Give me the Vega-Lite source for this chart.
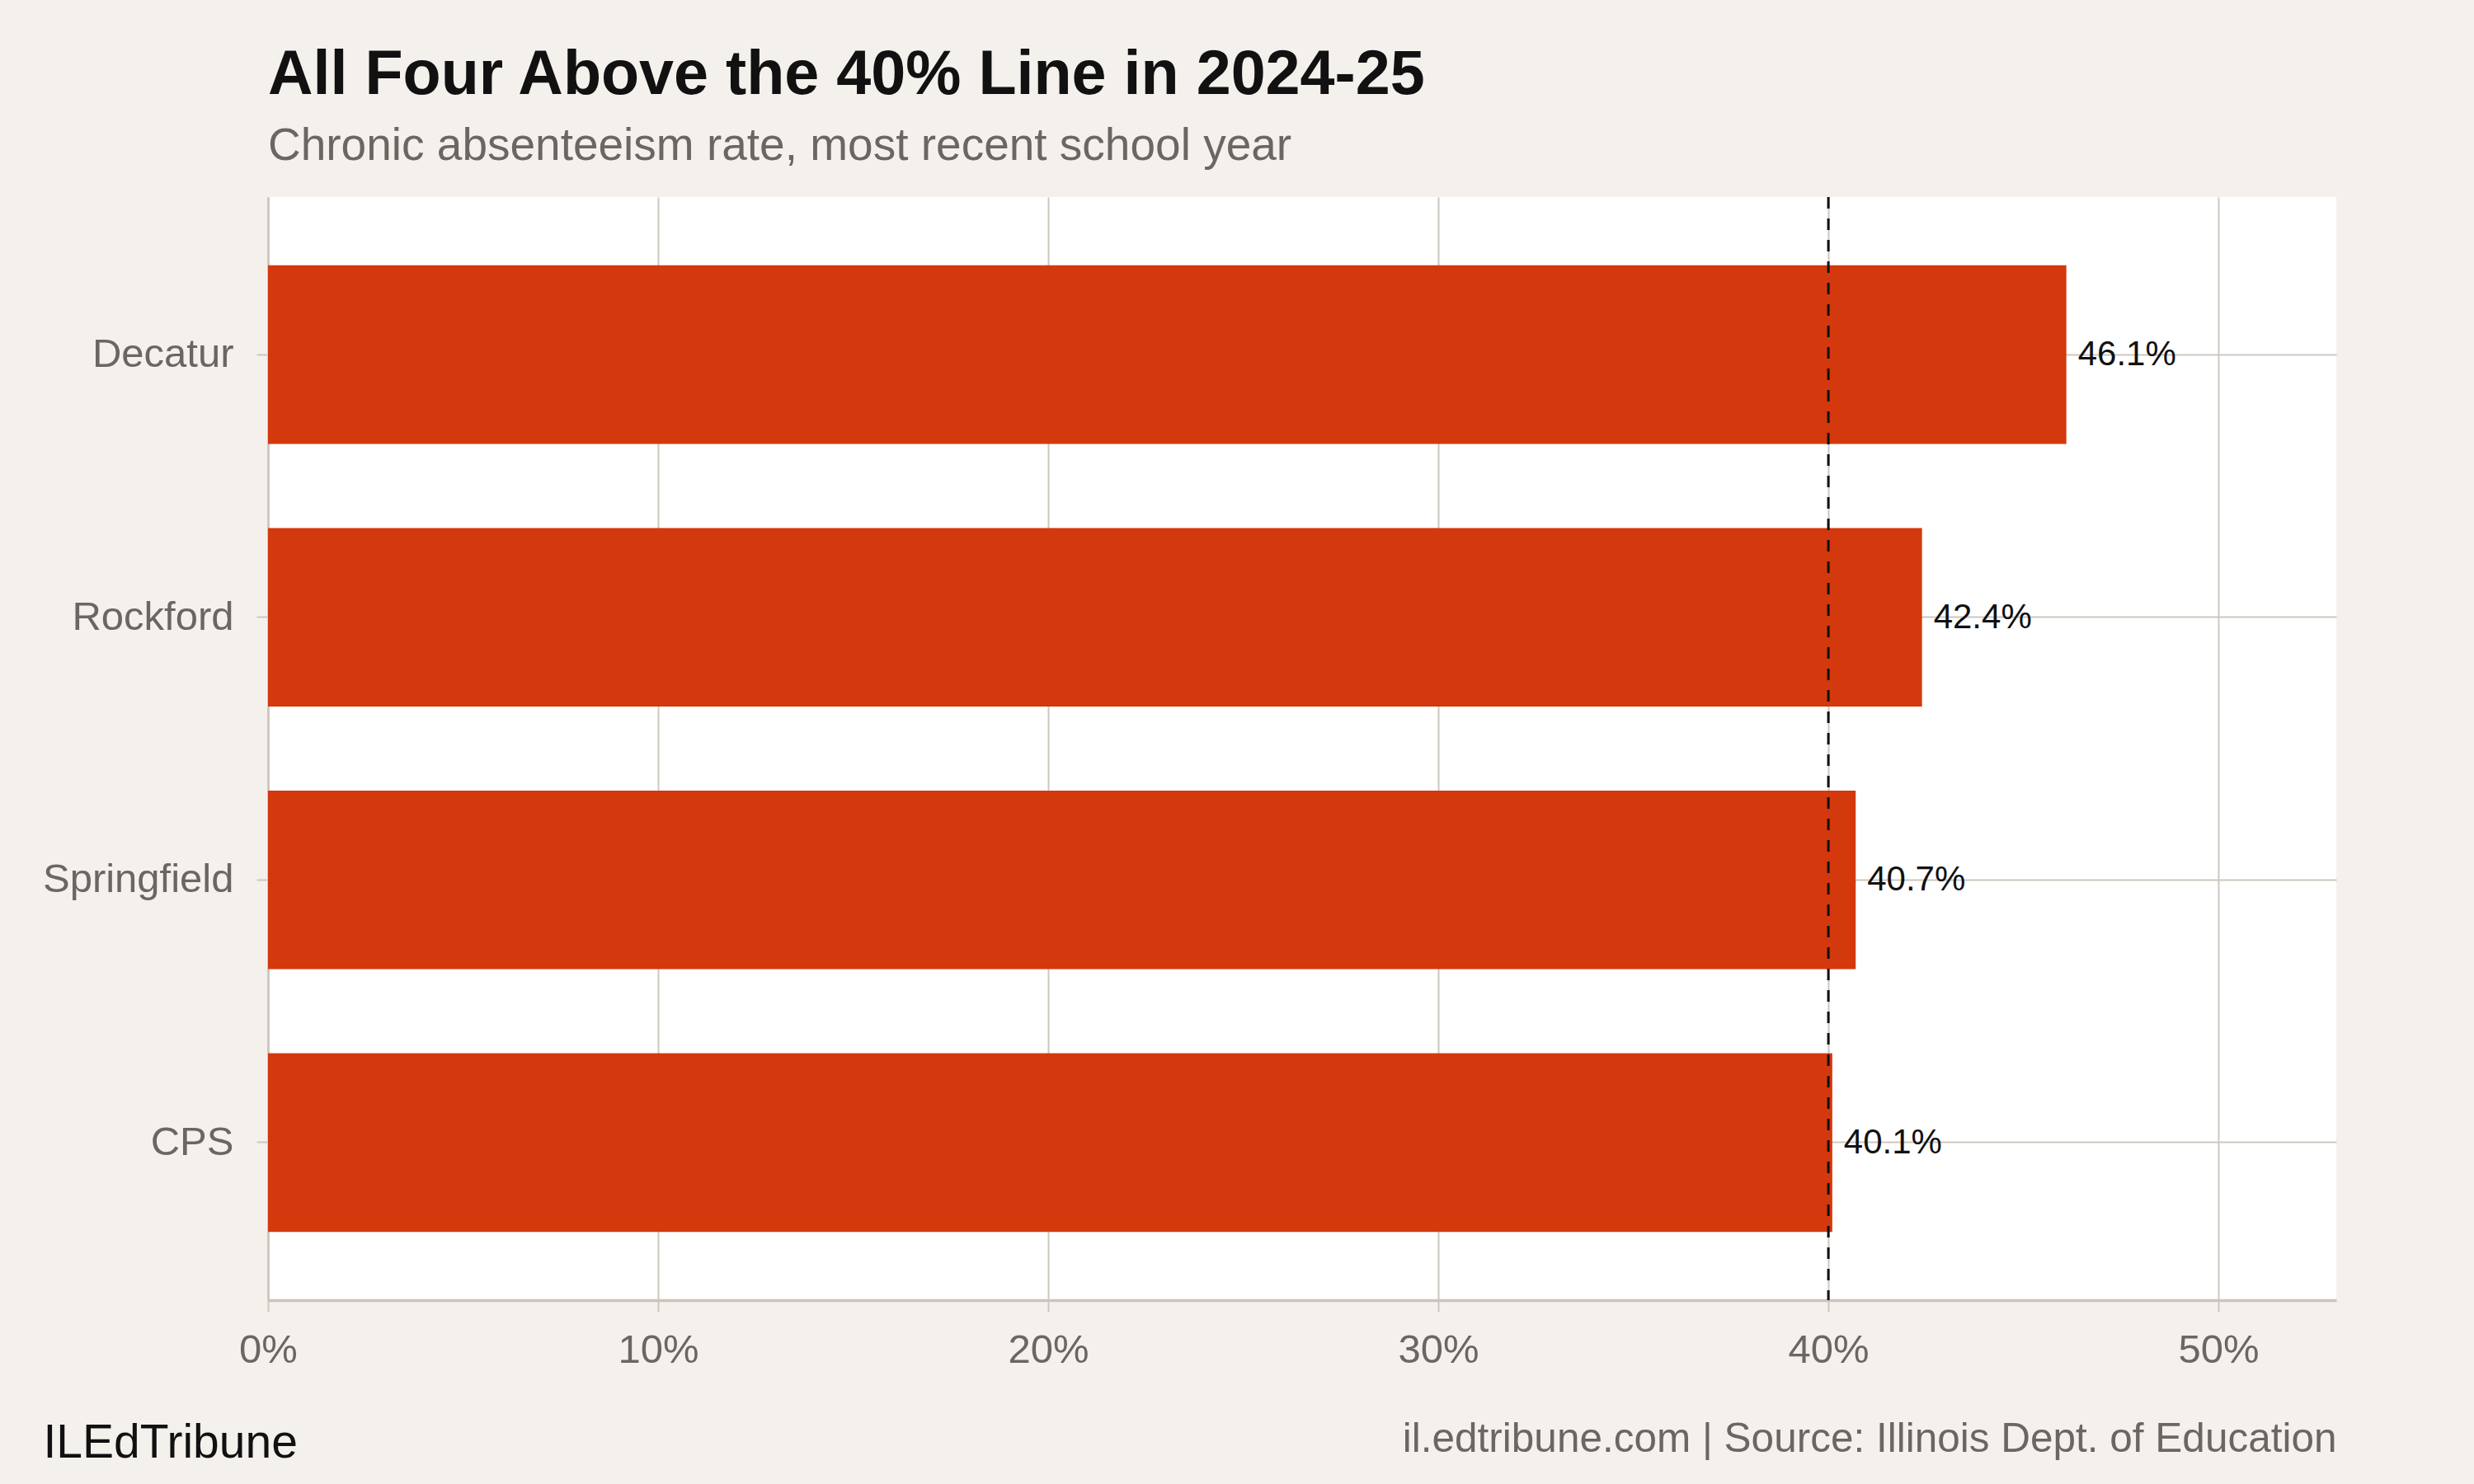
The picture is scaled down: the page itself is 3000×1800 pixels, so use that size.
{
  "$schema": "https://vega.github.io/schema/vega-lite/v6.json",
  "width": 2508,
  "height": 1338,
  "autosize": {"type": "none"},
  "padding": {"left": 325, "top": 239, "right": 167, "bottom": 223},
  "background": "#f4f1ec",
  "config": {
    "view": {"fill": "white", "stroke": null},
    "font": "Liberation Sans"
  },
  "title": {
    "text": "All Four Above the 40% Line in 2024-25",
    "subtitle": "Chronic absenteeism rate, most recent school year",
    "anchor": "start",
    "frame": "group",
    "font": "Liberation Sans",
    "fontSize": 75.5,
    "fontWeight": "bold",
    "color": "#111111",
    "subtitleFont": "Liberation Sans",
    "subtitleFontSize": 55,
    "subtitleColor": "#6b6662",
    "subtitlePadding": 21,
    "offset": 33
  },
  "data": {
    "values": [
      {"district": "Decatur", "rate": 0.461},
      {"district": "Rockford", "rate": 0.424},
      {"district": "Springfield", "rate": 0.407},
      {"district": "CPS", "rate": 0.401}
    ]
  },
  "layer": [
    {
      "mark": {"type": "bar", "color": "#d4380d"},
      "encoding": {
        "y": {
          "field": "district",
          "type": "nominal",
          "sort": null,
          "scale": {"paddingInner": 0.32, "paddingOuter": 0.26},
          "axis": {
            "title": "ILEdTribune",
            "titleAngle": 0,
            "titleAlign": "left",
            "titleBaseline": "alphabetic",
            "titleX": -273,
            "titleY": 1528,
            "titleFont": "Liberation Sans",
            "titleFontSize": 57,
            "titleFontWeight": "normal",
            "titleColor": "#111111",
            "labelFont": "Liberation Sans",
            "labelFontSize": 49,
            "labelColor": "#6b6662",
            "labelPadding": 28,
            "labelLimit": 0,
            "tickSize": 14,
            "tickColor": "#cdc7be",
            "tickWidth": 2,
            "domainColor": "#cbc5bc",
            "domainWidth": 2.5,
            "grid": true,
            "gridColor": "#cdc7be",
            "gridWidth": 2
          }
        },
        "x": {
          "field": "rate",
          "type": "quantitative",
          "scale": {"domain": [0, 0.5302], "nice": false, "zero": true},
          "axis": {
            "values": [0, 0.1, 0.2, 0.3, 0.4, 0.5],
            "format": ".0%",
            "title": "il.edtribune.com | Source: Illinois Dept. of Education",
            "titleX": 2508,
            "titleY": 183,
            "titleAlign": "right",
            "titleBaseline": "alphabetic",
            "titleFont": "Liberation Sans",
            "titleFontSize": 49.5,
            "titleFontWeight": "normal",
            "titleColor": "#6b6662",
            "labelFont": "Liberation Sans",
            "labelFontSize": 49,
            "labelColor": "#6b6662",
            "labelPadding": 22,
            "labelFlush": false,
            "tickSize": 14,
            "tickColor": "#cdc7be",
            "tickWidth": 2,
            "domainColor": "#cbc5bc",
            "domainWidth": 3.5,
            "grid": true,
            "gridColor": "#cdc7be",
            "gridWidth": 2
          }
        }
      }
    },
    {
      "mark": {"type": "text", "align": "left", "baseline": "middle", "dx": 14, "fontSize": 42, "font": "Liberation Sans", "color": "#111111"},
      "encoding": {
        "y": {"field": "district", "type": "nominal", "sort": null},
        "x": {"field": "rate", "type": "quantitative"},
        "text": {"field": "rate", "type": "quantitative", "format": ".1%"}
      }
    },
    {
      "data": {"values": [{}]},
      "mark": {"type": "rule", "color": "#111111", "strokeWidth": 3, "strokeDash": [14, 12]},
      "encoding": {
        "x": {"datum": 0.4, "type": "quantitative"}
      }
    }
  ]
}
